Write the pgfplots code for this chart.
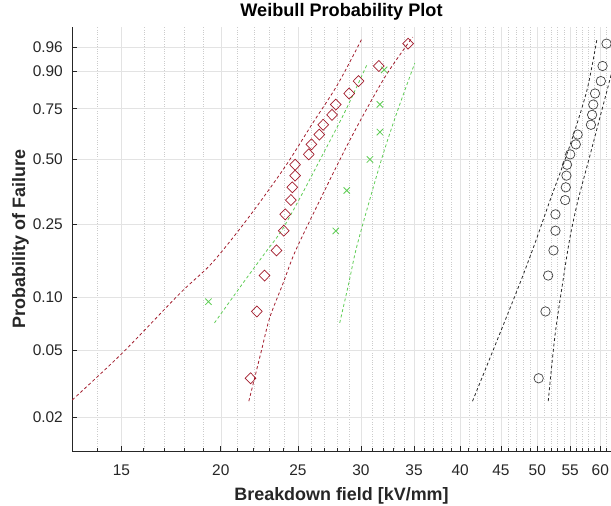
\documentclass[border=0pt]{standalone}
\usepackage{fontspec}
\setmainfont{Liberation Sans}
\usepackage{pgfplots}
\pgfplotsset{compat=1.18}
\definecolor{wred}{RGB}{162,28,44}
\definecolor{wgreen}{RGB}{95,205,85}
\definecolor{wblack}{RGB}{40,40,40}
\definecolor{axgray}{RGB}{38,38,38}

\begin{document}
\begin{tikzpicture}
\begin{axis}[
	scale only axis, width=539bp, height=424bp,
	xmode=log, xmin=13, xmax=61.9,
	y coord trafo/.code={\pgfmathparse{ln(-ln(1-#1))}},
	y coord inv trafo/.code={\pgfmathparse{1-exp(-exp(#1))}},
	ymin=0.01263, ymax=0.9855,
	ytick={0.02,0.05,0.10,0.25,0.50,0.75,0.90,0.96},
	yticklabels={0.02,0.05,0.10,0.25,0.50,0.75,0.90,0.96},
	xtick={15,20,25,30,35,40,45,50,55,60},
	xticklabels={15,20,25,30,35,40,45,50,55,60},
	minor xtick={13,14,16,17,18,19,21,22,23,24,26,27,28,29,31,32,33,34,36,37,38,39,41,42,43,44,46,47,48,49,51,52,53,54,56,57,58,59,61},
	axis x line*=bottom, axis y line*=left,
	axis line style={axgray, line width=0.8bp, -},
	tick align=inside, tick style={axgray, line width=0.6bp},
	major tick length=5bp, minor tick length=3bp,
	grid=both,
	major grid style={gray!22, line width=0.5bp},
	minor grid style={gray!40, line width=0.4bp, dotted},
	tick label style={font=\fontsize{15.5}{18}\selectfont, text=black!85},
	xticklabel style={inner sep=0pt, yshift=-14bp},
	yticklabel style={inner sep=0pt, xshift=-9bp},
	xlabel={Breakdown field [kV/mm]},
	ylabel={Probability of Failure},
	xlabel style={font=\bfseries\fontsize{18}{21}\selectfont, at={(rel axis cs:0.5,-0.1156)}, anchor=base, inner sep=0pt, text=black!85},
	ylabel style={font=\bfseries\fontsize{18}{21}\selectfont, at={(rel axis cs:-0.0872,0.5)}, anchor=base, inner sep=0pt, text=black!85},
	bound/.style={line width=0.8bp, dash pattern=on 3bp off 2.5bp, smooth, tension=0.5},
]
% confidence bounds
\addplot[wred, bound] table {
x p
13.01 0.0256
15.04 0.0481
17.75 0.1048
19.36 0.1500
20.81 0.2170
22.38 0.3196
24.20 0.4770
26.09 0.6790
28.05 0.8550
30.08 0.9724
};
\addplot[wred, bound] table {
x p
21.69 0.0252
22.49 0.0494
23.04 0.0766
23.94 0.1193
24.77 0.1764
26.37 0.3021
29.05 0.5936
31.99 0.8710
34.27 0.9634
34.87 0.9750
};
\addplot[wgreen, bound] table {
x p
19.64 0.0717
21.30 0.1193
22.70 0.1743
23.85 0.2308
25.13 0.3342
26.63 0.4957
28.63 0.7332
30.60 0.9246
};
\addplot[wgreen, bound] table {
x p
28.22 0.0717
28.96 0.1193
29.56 0.1809
30.51 0.2919
31.96 0.5196
33.38 0.7428
35.07 0.9246
};
\addplot[wblack, bound] table {
x p
41.45 0.0252
44.48 0.0565
47.68 0.1239
49.80 0.2045
51.87 0.3269
54.96 0.5686
57.73 0.8324
59.43 0.9724
};
\addplot[wblack, bound] table {
x p
51.61 0.0252
52.62 0.0604
53.86 0.1239
54.96 0.2121
56.25 0.3269
58.24 0.5196
59.95 0.7088
61.90 0.8885
63.54 0.9750
};
% data points
\addplot[only marks, mark=diamond, mark size=5.5bp, mark options={xscale=1.3, wred, line width=0.7bp, fill=none}] table {
x p
21.8 0.0343
22.2 0.0833
22.7 0.1324
23.5 0.1814
24.0 0.2304
24.1 0.2794
24.5 0.3284
24.6 0.3775
24.8 0.4265
24.8 0.4755
25.8 0.5245
26.0 0.5735
26.6 0.6225
26.9 0.6716
27.6 0.7206
27.9 0.7696
29.0 0.8186
29.8 0.8676
31.6 0.9167
34.4 0.9657
};
\addplot[only marks, mark=x, mark size=4.5bp, mark options={wgreen, line width=0.8bp}] table {
x p
19.3 0.0946
27.9 0.2297
28.8 0.3649
30.8 0.5000
31.7 0.6351
31.7 0.7703
32.1 0.9054
};
\addplot[only marks, mark=o, mark size=4.7bp, mark options={black!75, line width=0.7bp, fill=none}] table {
x p
50.2 0.0343
51.2 0.0833
51.6 0.1324
52.4 0.1814
52.7 0.2304
52.7 0.2794
54.2 0.3284
54.3 0.3775
54.4 0.4265
54.5 0.4755
55.0 0.5245
55.9 0.5735
56.2 0.6225
58.4 0.6716
58.6 0.7206
58.8 0.7696
59.1 0.8186
60.1 0.8676
60.4 0.9167
61.1 0.9657
};
\end{axis}
\node[font=\bfseries\fontsize{18.2}{21}\selectfont, anchor=base, inner sep=0pt] at ([yshift=10bp]current axis.north) {Weibull Probability Plot};
\pgfresetboundingbox
\path[use as bounding box] ([xshift=-72bp,yshift=-55bp]current axis.south west) rectangle ([yshift=27bp]current axis.north east);
\end{tikzpicture}
\end{document}
